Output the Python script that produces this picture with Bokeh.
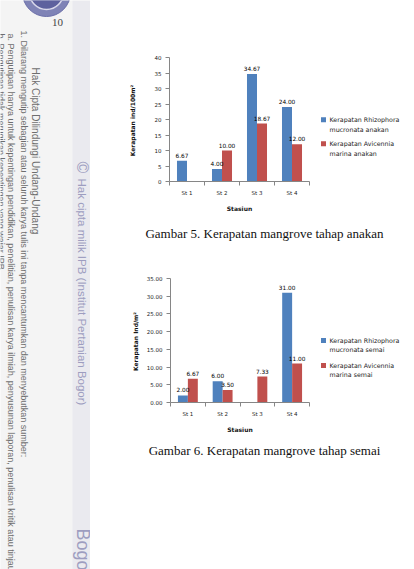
import math
from bokeh.plotting import figure
from bokeh.models import Range1d, FixedTicker, ColumnDataSource, BoxAnnotation, NumeralTickFormatter
from bokeh.layouts import row, column
from bokeh.embed import file_html
from bokeh.resources import INLINE
from bokeh.core.properties import value

# ---------------- data ----------------
stations = ["St 1", "St 2", "St 3", "St 4"]
anakan_rhizophora = [6.67, 4.00, 34.67, 24.00]
anakan_avicennia = [None, 10.00, 18.67, 12.00]
semai_rhizophora = [2.00, 6.00, None, 31.00]
semai_avicennia = [6.67, 3.50, 7.33, 11.00]
anakan_yticks = [0, 5, 10, 15, 20, 25, 30, 35, 40]
semai_yticks = [0, 5, 10, 15, 20, 25, 30, 35]
anakan_legend = [["Kerapatan Rhizophora", "mucronata anakan"], ["Kerapatan Avicennia", "marina anakan"]]
semai_legend = [["Kerapatan Rhizophora", "mucronata semai"], ["Kerapatan Avicennia", "marina semai"]]
anakan_ytitle = "Kerapatan  ind/100m\u00b2"
semai_ytitle = "Kerapatan  Ind/m\u00b2"
xtitle = "Stasiun"
caption5 = "Gambar 5. Kerapatan mangrove tahap anakan"
caption6 = "Gambar 6. Kerapatan mangrove tahap semai"

BLUE = "#4F81BD"
RED = "#C0504D"
AXIS = "#868686"
SANS = "DejaVu Sans"
SERIF = "Liberation Serif"
CHART_W = 225
LEG_W = 99


def overlay(width, height, x0, y0, top=0, bottom=0):
    """A plain figure whose data coordinates equal page pixels (y negated)."""
    f = figure(width=width, height=height, output_backend="svg", toolbar_location=None,
               x_range=Range1d(x0, x0 + width),
               y_range=Range1d(-(y0 + height - bottom), -(y0 + top)),
               min_border_left=0, min_border_right=0,
               min_border_top=top, min_border_bottom=bottom,
               outline_line_color=None, background_fill_color="white",
               border_fill_color="white")
    f.axis.visible = False
    f.grid.visible = False
    return f


def make_chart(blue, red, yticks, fmt, ytitle, height, top, left, bottom, ystandoff):
    frame_w = CHART_W - left - 6
    p = figure(width=CHART_W, height=height, output_backend="svg", toolbar_location=None,
               x_range=Range1d(0, len(stations)), y_range=Range1d(0, yticks[-1]),
               min_border_left=left, min_border_right=CHART_W - left - frame_w,
               min_border_top=top, min_border_bottom=bottom,
               outline_line_color=None, background_fill_color="white",
               border_fill_color="white")
    p.xgrid.visible = False
    p.ygrid.visible = False

    centers = [i + 0.5 for i in range(len(stations))]
    xb = [c - 0.143 for c in centers]
    xr = [c + 0.143 for c in centers]
    bsrc = ColumnDataSource(dict(x=xb, top=[v if v is not None else float("nan") for v in blue]))
    rsrc = ColumnDataSource(dict(x=xr, top=[v if v is not None else float("nan") for v in red]))
    p.vbar(x="x", top="top", width=0.286, source=bsrc, fill_color=BLUE, line_color=None)
    p.vbar(x="x", top="top", width=0.286, source=rsrc, fill_color=RED, line_color=None)

    lx, ly, lt = [], [], []
    for xs, vals in ((xb, blue), (xr, red)):
        for x, v in zip(xs, vals):
            if v is not None:
                lx.append(x)
                ly.append(v)
                lt.append("%.2f" % v)
    p.text(x=lx, y=ly, text=lt, text_align="center", text_baseline="bottom", y_offset=-3,
           text_font=value(SANS), text_font_size="5.8px", text_color="black")

    xa = p.xaxis[0]
    xa.ticker = FixedTicker(ticks=centers, minor_ticks=list(range(len(stations) + 1)))
    xa.major_label_overrides = {c: s for c, s in zip(centers, stations)}
    xa.major_tick_out = 0
    xa.major_tick_in = 0
    xa.minor_tick_out = 4
    xa.minor_tick_in = 0
    xa.major_label_standoff = 4
    xa.axis_label = xtitle
    xa.axis_label_standoff = 6
    ya = p.yaxis[0]
    ya.ticker = FixedTicker(ticks=yticks)
    if fmt:
        ya.formatter = NumeralTickFormatter(format=fmt)
    ya.major_tick_out = 4
    ya.major_tick_in = 0
    ya.minor_tick_out = 0
    ya.minor_tick_in = 0
    ya.major_label_standoff = 4
    ya.axis_label = ytitle
    ya.axis_label_standoff = ystandoff
    for ax in (xa, ya):
        ax.axis_line_color = AXIS
        ax.major_tick_line_color = AXIS
        ax.minor_tick_line_color = AXIS
        ax.major_label_text_font = SANS
        ax.major_label_text_font_size = "5.5px"
        ax.major_label_text_color = "#222222"
        ax.axis_label_text_font = SANS
        ax.axis_label_text_font_size = "6px"
        ax.axis_label_text_font_style = "bold"
        ax.axis_label_text_color = "#111111"
    return p


def make_legend(labels, height, y0, top, bottom, first_y, item_gap):
    f = overlay(LEG_W, height, 90 + CHART_W, y0, top, bottom)
    sq_x = 323
    ys = [first_y, first_y + item_gap]
    f.scatter(x=[sq_x, sq_x], y=[-ys[0], -ys[1]], marker="square", size=5,
              fill_color=[BLUE, RED], line_color=None)
    tx, ty, tt = [], [], []
    for yy, lines in zip(ys, labels):
        for k, line in enumerate(lines):
            tx.append(329)
            ty.append(-(yy + 9.3 * k))
            tt.append(line)
    f.text(x=tx, y=ty, text=tt, text_align="left", text_baseline="middle",
           text_font=value(SANS), text_font_size="6.3px", text_color="#222222")
    return f


def make_caption(text, height, y0, center_y):
    c = overlay(CHART_W + LEG_W, height, 90, y0)
    c.text(x=[264], y=[-center_y], text=[text], text_align="center", text_baseline="middle",
           text_font=value(SERIF), text_font_size="13px", text_color="#111111")
    return c


fig1 = make_chart(anakan_rhizophora, anakan_avicennia, anakan_yticks, None, anakan_ytitle,
                  218, 57, 79, 37, 16)
leg1 = make_legend(anakan_legend, 218, 0, 57, 37, 119.3, 24)
cap1 = make_caption(caption5, 32, 218, 233)
fig2 = make_chart(semai_rhizophora, semai_avicennia, semai_yticks, "0.00", semai_ytitle,
                  188, 28, 80, 36, 5)
leg2 = make_legend(semai_legend, 188, 250, 28, 36, 340, 25)
cap2 = make_caption(caption6, 131, 438, 450)

# ---------------- left decorative strip ----------------
left = figure(width=90, height=569, output_backend="svg", toolbar_location=None,
              x_range=Range1d(0, 90), y_range=Range1d(-569, 0),
              min_border=0, outline_line_color=None,
              background_fill_color="#f4f4f4", border_fill_color="white")
left.axis.visible = False
left.grid.visible = False
left.add_layout(BoxAnnotation(left=72, right=90, fill_color="#eaeaef", fill_alpha=1,
                              line_color=None, level="underlay"))
left.circle(x=[46], y=[8], radius=24, fill_color="#7f83b6", line_color="#6a6ea8")
left.circle(x=[46], y=[8], radius=17, fill_color="#5d619e", line_color="#d8d8ea", line_width=1.5)
left.text(x=[57], y=[-22], text=["10"], text_align="center", text_baseline="middle",
          text_font=value(SERIF), text_font_size="11px", text_color="#444444")
ang = -math.pi / 2
LAV = "#9d9dc0"
GRAY = "#6e6e6e"
left.text(x=[81.5], y=[-167], text=["\u00a9"], angle=ang, text_align="center", text_baseline="middle",
          text_font=value("Liberation Sans"), text_font_size="16px", text_color=LAV)
left.text(x=[81.5], y=[-178], text=["Hak cipta milik IPB (Institut Pertanian Bogor)"], angle=ang,
          text_align="left", text_baseline="middle",
          text_font=value("Liberation Sans"), text_font_size="11.5px", text_color=LAV)
left.text(x=[82], y=[-528], text=["Bogor Agricultural University"], angle=ang,
          text_align="left", text_baseline="middle",
          text_font=value("Liberation Sans"), text_font_size="18px", text_color=LAV)
left.text(x=[35], y=[-67], text=["Hak Cipta Dilindungi Undang-Undang"], angle=ang,
          text_align="left", text_baseline="middle",
          text_font=value("Liberation Sans"), text_font_size="10px", text_color=GRAY)
left.text(x=[23], y=[-30],
          text=["1. Dilarang mengutip sebagian atau seluruh karya tulis ini tanpa mencantumkan dan menyebutkan sumber:"],
          angle=ang, text_align="left", text_baseline="middle",
          text_font=value("Liberation Sans"), text_font_size="9px", text_color=GRAY)
left.text(x=[10], y=[-33],
          text=["a. Pengutipan hanya untuk kepentingan pendidikan, penelitian, penulisan karya ilmiah, penyusunan laporan, penulisan kritik atau tinjauan suatu masalah"],
          angle=ang, text_align="left", text_baseline="middle",
          text_font=value("Liberation Sans"), text_font_size="9px", text_color=GRAY)
left.text(x=[0], y=[-33],
          text=["b. Pengutipan tidak merugikan kepentingan yang wajar IPB."],
          angle=ang, text_align="left", text_baseline="middle",
          text_font=value("Liberation Sans"), text_font_size="9px", text_color=GRAY)

right = column(row(fig1, leg1), cap1, row(fig2, leg2), cap2)
layout = row(left, right)
open("out.html", "w").write(file_html(layout, INLINE))
